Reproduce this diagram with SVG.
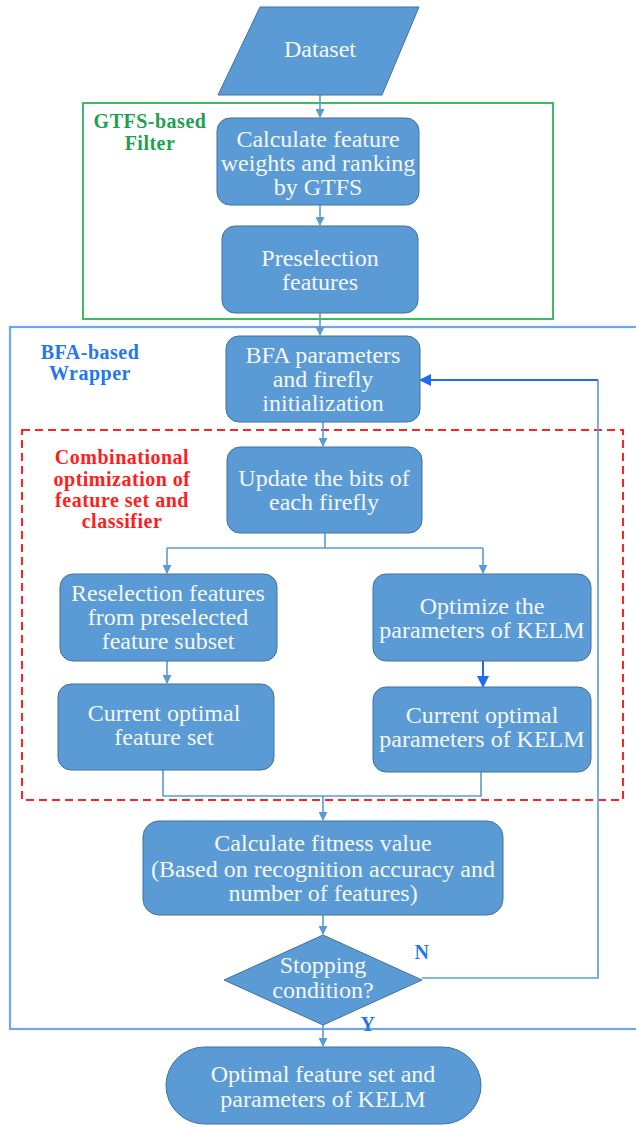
<svg xmlns="http://www.w3.org/2000/svg" width="636" height="1126" viewBox="0 0 636 1126">
<style>
.node{fill:#5B9BD5;stroke:#41719C;stroke-width:1}
.t{font-family:"Liberation Serif","Times New Roman",serif;font-size:24px;fill:#F4F7FB;text-anchor:middle}
.lbl{font-family:"Liberation Serif","Times New Roman",serif;font-size:20px;font-weight:bold;text-anchor:middle;letter-spacing:0.5px}
.c{fill:none;stroke:#5B9BD5;stroke-width:1.6}
.cb{fill:none;stroke:#1F6CF0;stroke-width:2}
</style>
<defs>
<marker id="ah" markerUnits="userSpaceOnUse" markerWidth="9" markerHeight="9" refX="8" refY="4.5" orient="auto">
<path d="M0,0 L9,4.5 L0,9 z" fill="#5B9BD5"/>
</marker>
<marker id="ahb" markerUnits="userSpaceOnUse" markerWidth="12" markerHeight="12" refX="10" refY="6" orient="auto">
<path d="M0,0 L12,6 L0,12 z" fill="#1F6CF0"/>
</marker>
</defs>

<g id="containers">
<rect x="83" y="103" width="470" height="216" fill="none" stroke="#3DBB6A" stroke-width="2"/>
<text class="lbl" x="150" y="128" fill="#1FA050">GTFS-based</text>
<text class="lbl" x="150" y="150" fill="#1FA050">Filter</text>
<rect x="10" y="327" width="640" height="702" fill="none" stroke="#6EA6F2" stroke-width="2.2"/>
<text class="lbl" x="90" y="359" fill="#2277EE">BFA-based</text>
<text class="lbl" x="90" y="380" fill="#2277EE">Wrapper</text>
<rect x="22" y="430" width="601" height="370" fill="none" stroke="#FF2424" stroke-width="2" stroke-dasharray="8,5"/>
<text class="lbl" x="122" y="464" fill="#FF1E1E">Combinational</text>
<text class="lbl" x="122" y="486" fill="#FF1E1E">optimization of</text>
<text class="lbl" x="122" y="507" fill="#FF1E1E">feature set and</text>
<text class="lbl" x="122" y="528" fill="#FF1E1E">classifier</text>
</g>

<g id="connectors">
<path class="c" d="M320,95 L320,117" marker-end="url(#ah)"/>
<path class="c" d="M320,205 L320,225" marker-end="url(#ah)"/>
<path class="c" d="M320,313 L320,335" marker-end="url(#ah)"/>
<path class="c" d="M323,422 L323,446" marker-end="url(#ah)"/>
<path class="c" d="M325,533 L325,548 M167,548 L483,548"/>
<path class="c" d="M167,548 L167,573" marker-end="url(#ah)"/>
<path class="c" d="M483,548 L483,573" marker-end="url(#ah)"/>
<path class="c" d="M167,661 L167,683" marker-end="url(#ah)"/>
<path class="cb" d="M483,661 L483,686" marker-end="url(#ahb)"/>
<path class="c" d="M163,770 L163,796 L481,796 L481,772"/>
<path class="c" d="M323,796 L323,820" marker-end="url(#ah)"/>
<path class="c" d="M323,915 L323,934" marker-end="url(#ah)"/>
<path class="c" d="M323,1025 L323,1046" marker-end="url(#ah)"/>
<path class="c" d="M422,978 L598,978 L598,380" stroke="#6EA6F2" stroke-width="2"/>
<path class="cb" d="M598,380 L421,380" marker-end="url(#ahb)"/>
<text class="lbl" x="422" y="959" fill="#2277EE" font-size="18">N</text>
<text class="lbl" x="368" y="1031" fill="#2277EE" font-size="18">Y</text>
</g>

<g id="dataset">
<polygon class="node" points="260,7 419,7 382,95 218,95"/>
<text class="t" x="320" y="57">Dataset</text>
</g>
<g id="calc-weights">
<rect class="node" x="217" y="118" width="202" height="87" rx="13"/>
<text class="t" x="318" y="147">Calculate feature</text>
<text class="t" x="318" y="171">weights and ranking</text>
<text class="t" x="318" y="195">by GTFS</text>
</g>
<g id="preselection">
<rect class="node" x="222" y="226" width="196" height="87" rx="13"/>
<text class="t" x="320" y="266">Preselection</text>
<text class="t" x="320" y="290">features</text>
</g>
<g id="bfa-init">
<rect class="node" x="226" y="336" width="194" height="86" rx="13"/>
<text class="t" x="323" y="363">BFA parameters</text>
<text class="t" x="323" y="387">and firefly</text>
<text class="t" x="323" y="411">initialization</text>
</g>
<g id="update-bits">
<rect class="node" x="227" y="447" width="195" height="86" rx="13"/>
<text class="t" x="324" y="486">Update the bits of</text>
<text class="t" x="324" y="510">each firefly</text>
</g>
<g id="reselection">
<rect class="node" x="60" y="574" width="217" height="87" rx="13"/>
<text class="t" x="168" y="601">Reselection features</text>
<text class="t" x="168" y="625">from preselected</text>
<text class="t" x="168" y="649">feature subset</text>
</g>
<g id="optimize-kelm">
<rect class="node" x="373" y="574" width="218" height="87" rx="13"/>
<text class="t" x="482" y="614">Optimize the</text>
<text class="t" x="482" y="638">parameters of KELM</text>
</g>
<g id="current-features">
<rect class="node" x="58" y="684" width="216" height="86" rx="13"/>
<text class="t" x="164" y="721">Current optimal</text>
<text class="t" x="164" y="745">feature set</text>
</g>
<g id="current-params">
<rect class="node" x="373" y="687" width="218" height="85" rx="13"/>
<text class="t" x="482" y="723">Current optimal</text>
<text class="t" x="482" y="747">parameters of KELM</text>
</g>
<g id="fitness">
<rect class="node" x="143" y="821" width="360" height="94" rx="16"/>
<text class="t" x="323" y="851">Calculate fitness value</text>
<text class="t" x="323" y="877">(Based on recognition accuracy and</text>
<text class="t" x="323" y="901">number of features)</text>
</g>
<g id="stopping">
<polygon class="node" points="323,935 422,980 323,1025 224,980"/>
<text class="t" x="323" y="973">Stopping</text>
<text class="t" x="323" y="998">condition?</text>
</g>
<g id="optimal-output">
<rect class="node" x="166" y="1047" width="315" height="77" rx="38.5"/>
<text class="t" x="323" y="1082">Optimal feature set and</text>
<text class="t" x="323" y="1107">parameters of KELM</text>
</g>
</svg>
